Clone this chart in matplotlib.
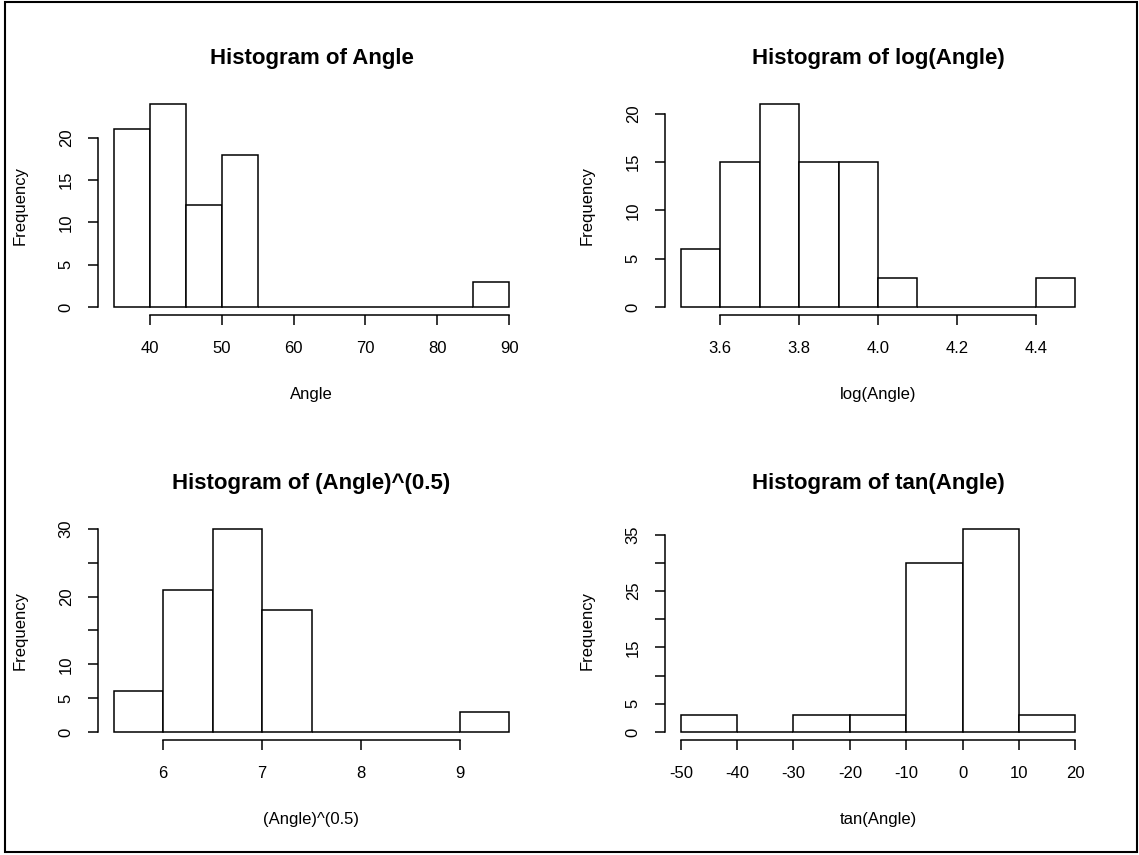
import numpy as np
import matplotlib
matplotlib.use("Agg")
import matplotlib.pyplot as plt
from matplotlib.patches import Rectangle

plt.rcParams["font.family"] = ["Liberation Sans", "DejaVu Sans"]

# Histogram bins (edges) and counts for each transform of Angle
angle_edges = [35, 40, 45, 50, 55, 60, 65, 70, 75, 80, 85, 90]
angle_counts = [21, 24, 12, 18, 0, 0, 0, 0, 0, 0, 3]
angle_xticks = [40, 50, 60, 70, 80, 90]
angle_yticks = [0, 5, 10, 15, 20]
angle_ylabels = ["0", "5", "10", "15", "20"]

log_edges = [3.5, 3.6, 3.7, 3.8, 3.9, 4.0, 4.1, 4.2, 4.3, 4.4, 4.5]
log_counts = [6, 15, 21, 15, 15, 3, 0, 0, 0, 3]
log_xticks = [3.6, 3.8, 4.0, 4.2, 4.4]
log_yticks = [0, 5, 10, 15, 20]
log_ylabels = ["0", "5", "10", "15", "20"]

sqrt_edges = [5.5, 6.0, 6.5, 7.0, 7.5, 8.0, 8.5, 9.0, 9.5]
sqrt_counts = [6, 21, 30, 18, 0, 0, 0, 3]
sqrt_xticks = [6, 7, 8, 9]
sqrt_yticks = [0, 5, 10, 15, 20, 25, 30]
sqrt_ylabels = ["0", "5", "10", "", "20", "", "30"]

tan_edges = [-50, -40, -30, -20, -10, 0, 10, 20]
tan_counts = [3, 0, 3, 3, 30, 36, 3]
tan_xticks = [-50, -40, -30, -20, -10, 0, 10, 20]
tan_yticks = [0, 5, 10, 15, 20, 25, 30, 35]
tan_ylabels = ["0", "5", "", "15", "", "25", "", "35"]

panels = [
    ("Angle", angle_edges, angle_counts, angle_xticks, angle_yticks, angle_ylabels),
    ("log(Angle)", log_edges, log_counts, log_xticks, log_yticks, log_ylabels),
    ("(Angle)^(0.5)", sqrt_edges, sqrt_counts, sqrt_xticks, sqrt_yticks, sqrt_ylabels),
    ("tan(Angle)", tan_edges, tan_counts, tan_xticks, tan_yticks, tan_ylabels),
]

W, H = 1139, 855
fig = plt.figure(figsize=(W / 100, H / 100), dpi=100)

# axes boxes in pixels: (left, top, right, bottom)
boxes = [(98, 96, 525, 315), (665, 96, 1091, 315),
         (98, 521, 525, 740), (665, 521, 1091, 740)]

for (name, edges, counts, xt, yt, yl), (l, t, r, b) in zip(panels, boxes):
    ax = fig.add_axes([l / W, 1 - b / H, (r - l) / W, (b - t) / H])
    edges = np.asarray(edges, dtype=float)
    ax.bar(edges[:-1], counts, width=np.diff(edges), align="edge",
           color="white", edgecolor="black", linewidth=1.1)

    # R-style 4% padding around data range
    xr = edges[-1] - edges[0]
    ax.set_xlim(edges[0] - 0.04 * xr, edges[-1] + 0.04 * xr)
    ymax = max(counts)
    ax.set_ylim(-0.04 * ymax, ymax * 1.04)

    ax.set_xticks(xt)
    ax.set_xticklabels([f"{v:g}" if name != "log(Angle)" else f"{v:.1f}" for v in xt])
    ax.set_yticks(yt)
    ax.set_yticklabels(yl, rotation=90, va="center")

    for s in ("top", "right"):
        ax.spines[s].set_visible(False)
    ax.spines["bottom"].set_bounds(xt[0], xt[-1])
    ax.spines["left"].set_bounds(yt[0], yt[-1])
    for s in ("bottom", "left"):
        ax.spines[s].set_linewidth(1.1)

    ax.tick_params(axis="x", length=7.5, width=1.1, pad=11, labelsize=12)
    ax.tick_params(axis="y", length=7.5, width=1.1, pad=10, labelsize=12)

    ax.set_title(f"Histogram of {name}", fontsize=16, fontweight="bold", pad=23)
    ax.set_xlabel(name, fontsize=12)
    ax.xaxis.set_label_coords(0.5, -0.33)
    ax.set_ylabel("Frequency", fontsize=12)
    ax.yaxis.set_label_coords(-0.165, 0.5)

# frame around the whole device
fig.add_artist(Rectangle((5 / W, 3 / H), 1132 / W, 850 / H, transform=fig.transFigure,
                         fill=False, edgecolor="black", linewidth=1.5))

fig.savefig("out.png", dpi=100)
